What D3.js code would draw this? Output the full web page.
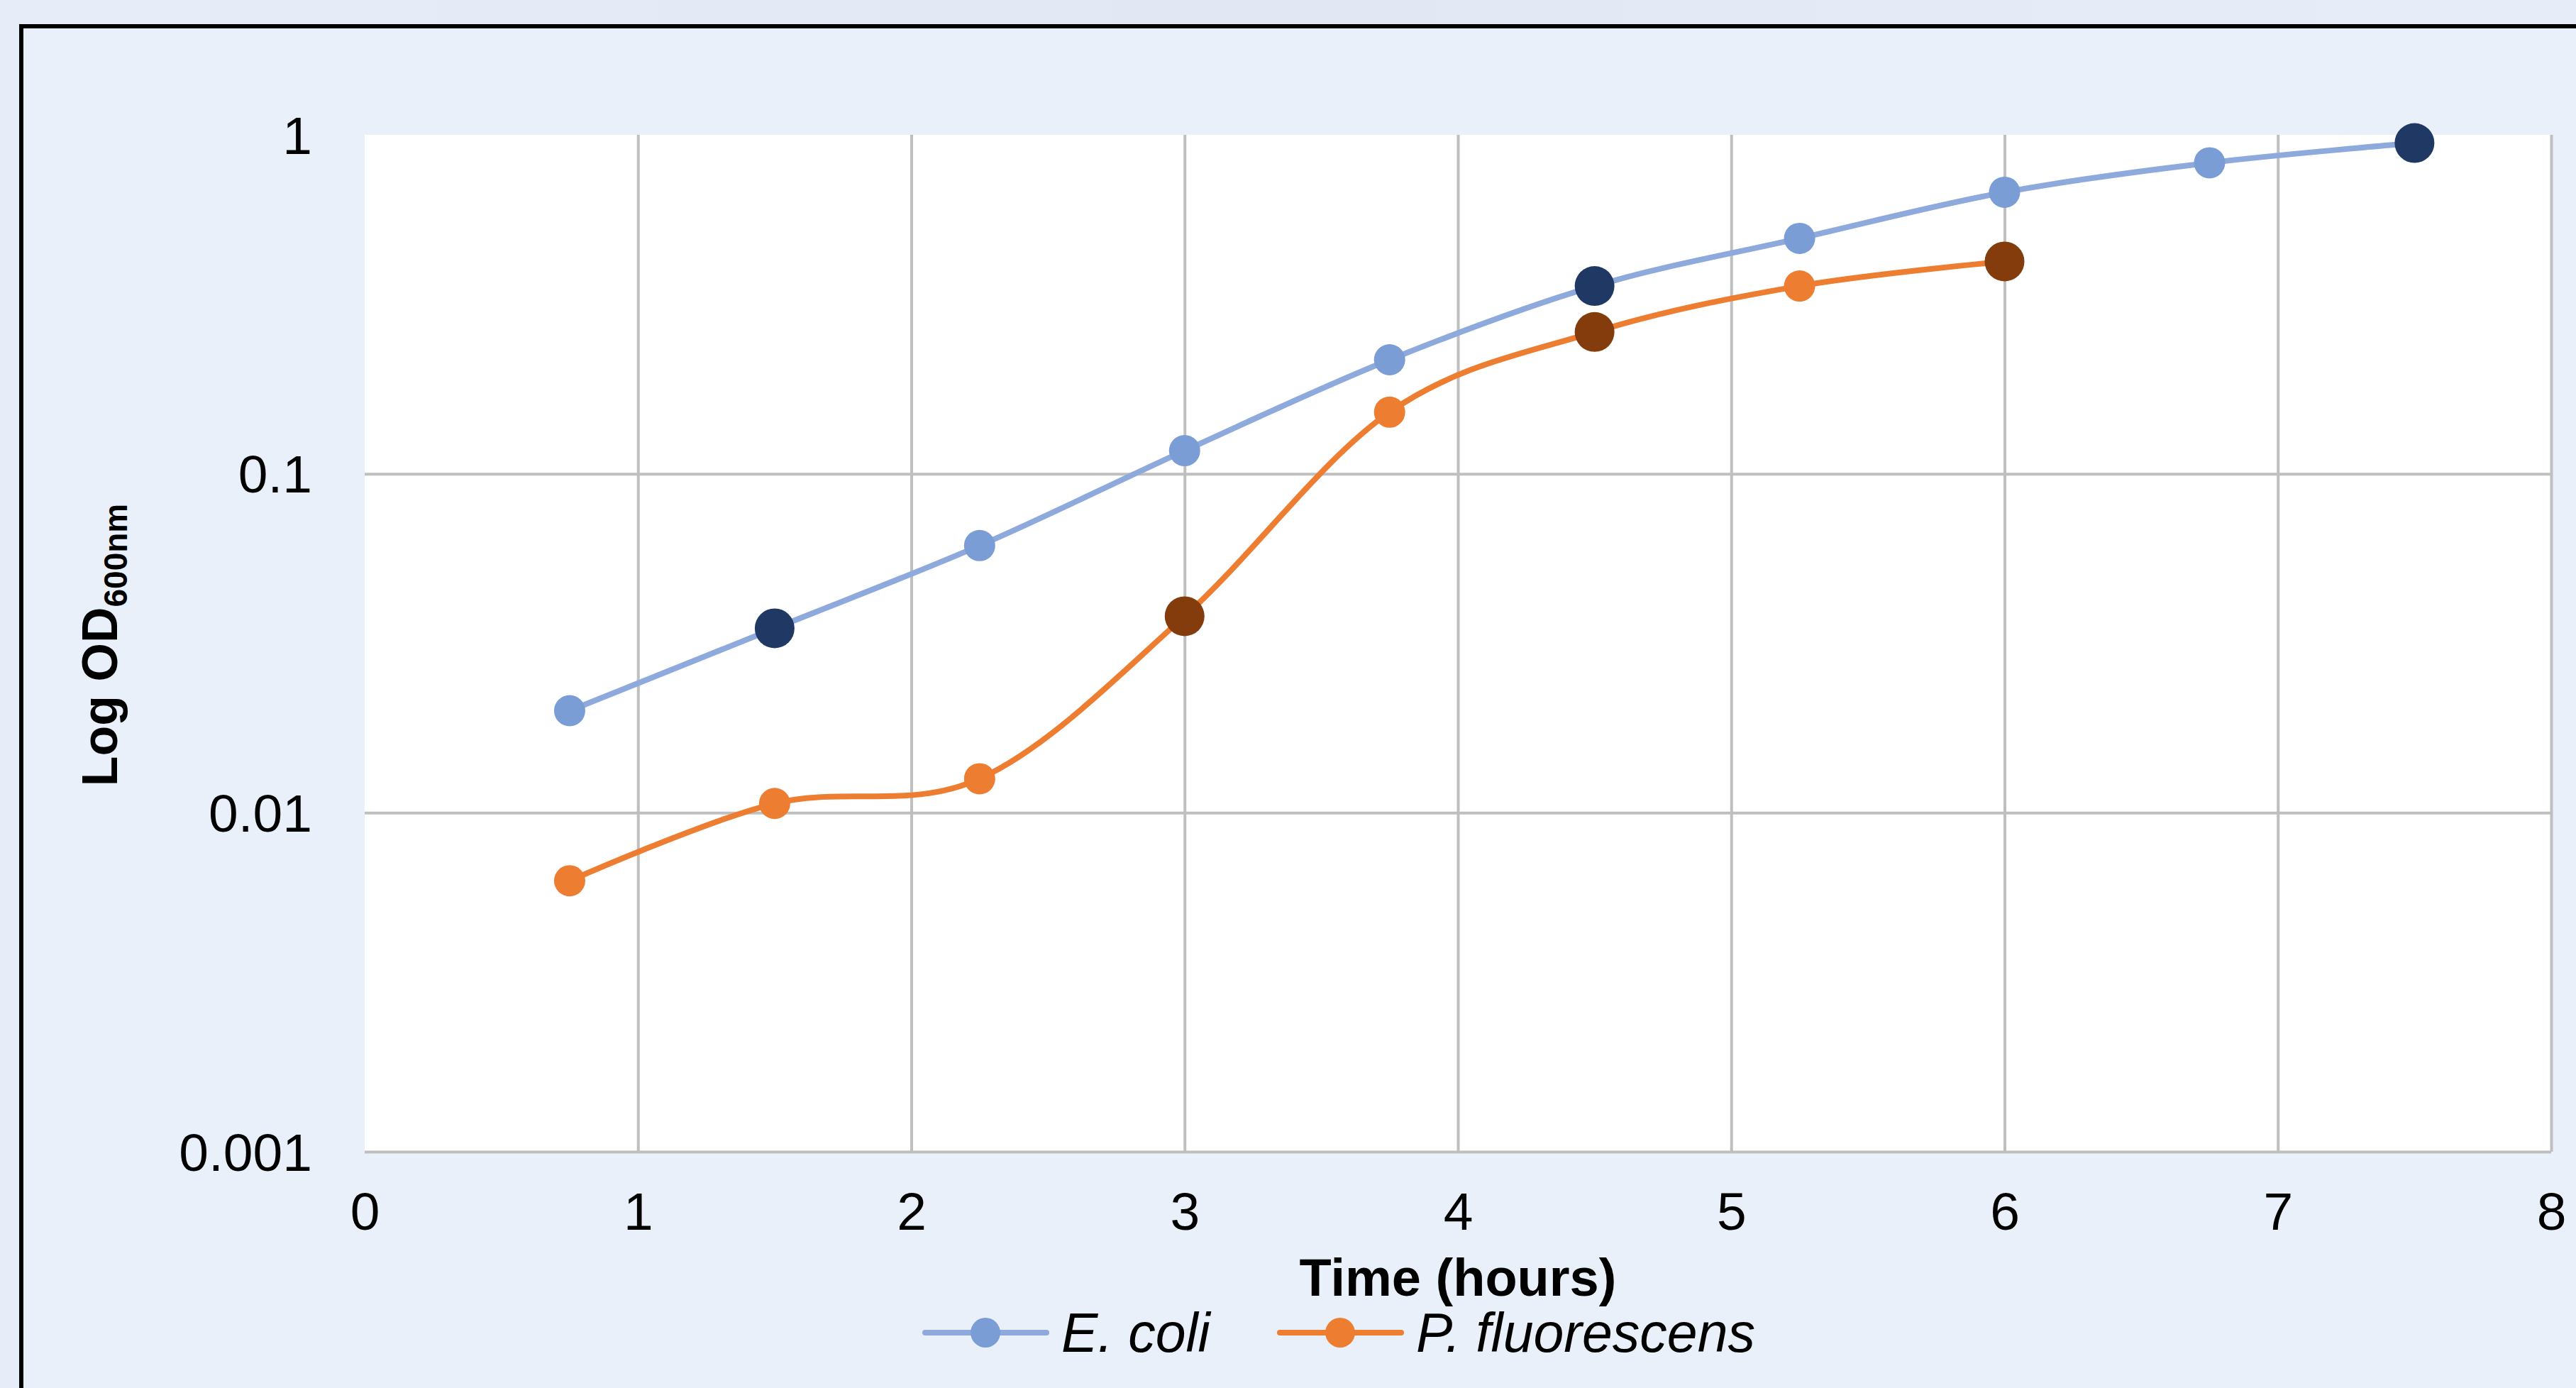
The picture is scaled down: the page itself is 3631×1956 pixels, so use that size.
<!DOCTYPE html>
<html>
<head>
<meta charset="utf-8">
<script src="https://cdn.jsdelivr.net/npm/d3@7"></script>
<style>
  html, body { margin: 0; padding: 0; background: #e4e9f6; overflow: hidden; }
  svg { display: block; }
  text { font-family: "Liberation Sans", Arial, sans-serif; fill: #000; }
</style>
</head>
<body>
<div id="chart"></div>
<script>
// Data
const xTicks = [0, 1, 2, 3, 4, 5, 6, 7, 8];
const yTicks = [0.001, 0.01, 0.1, 1];
const yTickLabels = ["0.001", "0.01", "0.1", "1"];

const ecoliHours = [0.75, 1.5, 2.25, 3, 3.75, 4.5, 5.25, 6, 6.75, 7.5];
const ecoliOD = [0.02, 0.035, 0.0614, 0.117, 0.217, 0.358, 0.495, 0.677, 0.827, 0.946];
const ecoliHighlight = [1.5, 4.5, 7.5];

const pfluorHours = [0.75, 1.5, 2.25, 3, 3.75, 4.5, 5.25, 6];
const pfluorOD = [0.0063, 0.01065, 0.0126, 0.038, 0.152, 0.262, 0.358, 0.423];
const pfluorHighlight = [3, 4.5, 6];

const seriesNames = ["E. coli", "P. fluorescens"];

document.addEventListener("DOMContentLoaded", () => {
  const width = 3631;
  const height = 1956;
  const plot = { left: 514, right: 3596, top: 190, bottom: 1623 };

  const svg = d3
    .select("#chart")
    .append("svg")
    .attr("width", width)
    .attr("height", height);

  // Background / frame
  const grad = svg.append("defs").append("linearGradient")
    .attr("id", "bg").attr("x1", 0).attr("x2", 1).attr("y1", 0).attr("y2", 0);
  grad.append("stop").attr("offset", "0%").attr("stop-color", "#e6ecf8");
  grad.append("stop").attr("offset", "50%").attr("stop-color", "#e2e7f4");
  grad.append("stop").attr("offset", "100%").attr("stop-color", "#e6edf8");
  svg.append("rect").attr("width", width).attr("height", height).attr("fill", "url(#bg)");
  svg.append("rect")
    .attr("x", 30).attr("y", 37)
    .attr("width", width + 100).attr("height", height + 100)
    .attr("fill", "#e9f0f9")
    .attr("stroke", "#000")
    .attr("stroke-width", 6);

  // Scales
  const x = d3.scaleLinear().domain([0, 8]).range([plot.left, plot.right]);
  const y = d3.scaleLog().domain([0.001, 1]).range([plot.bottom, plot.top]);

  // Plot area
  svg.append("rect")
    .attr("x", plot.left).attr("y", plot.top)
    .attr("width", plot.right - plot.left).attr("height", plot.bottom - plot.top)
    .attr("fill", "#fff");

  // Gridlines
  svg.append("g")
    .attr("transform", `translate(0, ${plot.bottom})`)
    .call(d3.axisBottom(x).tickValues(xTicks.slice(1)).tickSize(-(plot.bottom - plot.top)).tickFormat(""))
    .call((g) => g.select(".domain").remove())
    .selectAll("line").attr("stroke", "#bfbfbf").attr("stroke-width", 4);
  svg.append("g")
    .attr("transform", `translate(${plot.left}, 0)`)
    .call(d3.axisLeft(y).tickValues(yTicks.slice(0, 3)).tickSize(-(plot.right - plot.left)).tickFormat(""))
    .call((g) => g.select(".domain").remove())
    .selectAll("line").attr("stroke", "#bfbfbf").attr("stroke-width", 4);

  // Axis labels
  svg.append("g")
    .attr("transform", `translate(0, ${plot.bottom})`)
    .call(d3.axisBottom(x).tickValues(xTicks).tickSize(0).tickPadding(0))
    .call((g) => g.select(".domain").remove())
    .selectAll("text")
    .attr("y", 84).attr("dy", "0.35em")
    .attr("font-size", 75)
    .attr("font-family", "Liberation Sans, Arial, sans-serif")
    .attr("fill", "#000");
  svg.append("g")
    .attr("transform", `translate(${plot.left}, 0)`)
    .call(d3.axisLeft(y).tickValues(yTicks).tickSize(0).tickFormat((d, i) => yTickLabels[i]))
    .call((g) => g.select(".domain").remove())
    .selectAll("text")
    .attr("x", -74).attr("dy", "0.35em")
    .attr("font-size", 75)
    .attr("font-family", "Liberation Sans, Arial, sans-serif")
    .attr("fill", "#000");

  // Axis titles
  svg.append("text")
    .attr("x", (plot.left + plot.right) / 2)
    .attr("y", 1800).attr("dy", "0.35em")
    .attr("text-anchor", "middle")
    .attr("font-size", 74)
    .attr("font-weight", "bold")
    .text("Time (hours)");
  const yTitle = svg.append("text")
    .attr("transform", "translate(165, 909) rotate(-90)")
    .attr("text-anchor", "middle")
    .attr("font-size", 70)
    .attr("font-weight", "bold");
  yTitle.append("tspan").text("Log OD");
  yTitle.append("tspan").attr("font-size", 46).attr("dy", 14).text("600nm");

  // Series
  const series = [
    { name: seriesNames[0], hours: ecoliHours, od: ecoliOD, hi: ecoliHighlight,
      line: "#8eaadc", marker: "#7b9dd5", dark: "#203864" },
    { name: seriesNames[1], hours: pfluorHours, od: pfluorOD, hi: pfluorHighlight,
      line: "#ed7d31", marker: "#ed7d31", dark: "#843c0c" },
  ];

  const line = d3.line()
    .x((d) => x(d[0]))
    .y((d) => y(d[1]))
    .curve(d3.curveCatmullRom.alpha(0));

  series.forEach((s) => {
    const pts = s.hours.map((h, i) => [h, s.od[i]]);
    svg.append("path")
      .datum(pts)
      .attr("d", line)
      .attr("fill", "none")
      .attr("stroke", s.line)
      .attr("stroke-width", 8)
      .attr("stroke-linejoin", "round");
    svg.append("g")
      .selectAll("circle")
      .data(pts)
      .enter()
      .append("circle")
      .attr("cx", (d) => x(d[0]))
      .attr("cy", (d) => y(d[1]))
      .attr("r", (d) => (s.hi.includes(d[0]) ? 28 : 22))
      .attr("fill", (d) => (s.hi.includes(d[0]) ? s.dark : s.marker));
  });

  // Legend
  const legendY = 1878;
  const legendX = [1304, 1804];
  series.forEach((s, i) => {
    const g = svg.append("g").attr("transform", `translate(${legendX[i]}, ${legendY})`);
    g.append("line").attr("x1", 0).attr("x2", 171)
      .attr("stroke", s.line).attr("stroke-width", 8).attr("stroke-linecap", "round");
    g.append("circle").attr("cx", 85).attr("r", 21).attr("fill", s.marker);
    g.append("text").attr("x", 192).attr("dy", "0.35em")
      .attr("font-size", 77).attr("font-style", "italic").text(s.name);
  });
});
</script>
</body>
</html>
